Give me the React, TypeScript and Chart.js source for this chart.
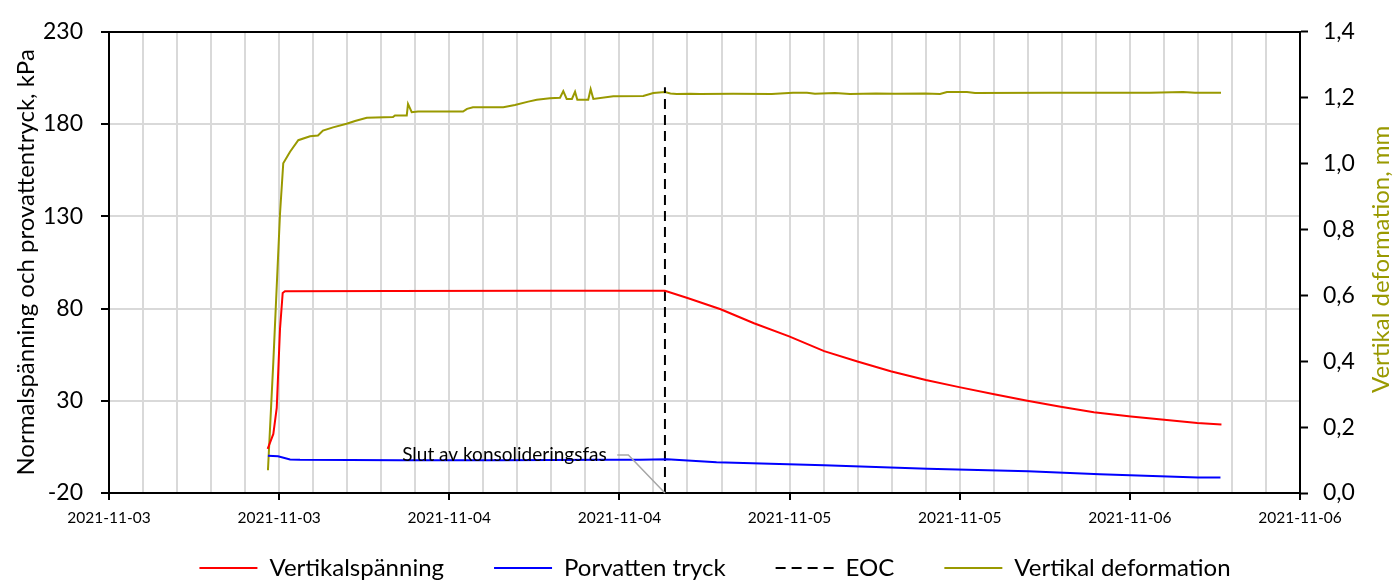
import React, { useEffect, useRef } from 'react';
import { Chart, registerables } from 'chart.js';

Chart.register(...registerables);

// ---- Data (time in hours from 2021-11-03 00:00) ----
const stressTimes = [11.19, 11.59, 11.83, 12.06, 12.25, 12.41, 20.0, 30.4, 39.21, 40.8, 43.14, 45.49, 47.97, 50.44, 52.79, 55.13, 57.61, 59.96, 62.43, 64.77, 67.12, 69.46, 72.07, 74.42, 76.76, 78.46];
const stressValues = [3.9, 12.0, 26.1, 68.8, 88.4, 89.4, 89.5, 89.6, 89.6, 85.7, 79.6, 72.0, 64.9, 56.9, 51.3, 46.0, 41.3, 37.4, 33.5, 30.0, 26.8, 23.8, 21.5, 19.7, 17.9, 17.1];

const poreTimes = [11.21, 11.92, 12.77, 13.47, 20.5, 27.6, 34.6, 37.45, 39.35, 42.85, 50.43, 57.72, 64.82, 69.88, 76.8, 78.39];
const poreValues = [0.2, -0.1, -1.8, -2.0, -2.3, -2.2, -2.0, -2.0, -1.7, -3.3, -5.0, -6.8, -8.2, -9.8, -11.6, -11.6];

const eocTimes = [39.21, 39.21];
const eocValues = [-20, 200];

const deformationTimes = [11.21, 11.59, 12.06, 12.29, 12.77, 13.35, 14.18, 14.74, 15.09, 15.8, 16.76, 17.35, 18.18, 20.03, 20.17, 21.0, 21.09, 21.35, 21.79, 24.97, 25.25, 25.67, 27.81, 28.63, 29.57, 30.17, 31.1, 31.81, 32.04, 32.28, 32.65, 32.87, 33.03, 33.8, 33.97, 34.16, 35.57, 37.68, 38.39, 39.21, 39.6, 40.04, 41.0, 41.68, 44.01, 46.74, 48.24, 49.23, 49.79, 51.2, 52.26, 54.1, 55.44, 57.55, 58.61, 59.1, 60.51, 61.08, 66.37, 73.42, 75.75, 76.59, 78.43];
const deformationValues = [0.069, 0.398, 0.847, 1.001, 1.036, 1.071, 1.083, 1.085, 1.1, 1.11, 1.121, 1.129, 1.139, 1.141, 1.146, 1.146, 1.181, 1.156, 1.158, 1.158, 1.166, 1.171, 1.171, 1.178, 1.188, 1.194, 1.198, 1.2, 1.22, 1.196, 1.196, 1.218, 1.194, 1.194, 1.226, 1.196, 1.204, 1.205, 1.214, 1.217, 1.213, 1.211, 1.212, 1.211, 1.212, 1.211, 1.215, 1.215, 1.212, 1.214, 1.211, 1.213, 1.212, 1.213, 1.211, 1.217, 1.217, 1.214, 1.215, 1.215, 1.217, 1.215, 1.215];

const seriesNames = ['Vertikalspänning', 'Porvatten tryck', 'EOC', 'Vertikal deformation'];
const seriesColors = ['#ff0000', '#0000ff', '#000000', '#999900'];

const leftAxisTitle = 'Normalspänning och provattentryck, kPa';
const rightAxisTitle = 'Vertikal deformation, mm';

const annotationText = 'Slut av konsolideringsfas';
const annotationAnchor = { x: 35.1, y: 0.4 };
const leaderTimes = [35.85, 36.63, 39.21];
const leaderValues = [0.6, 0.6, -20];

const xRange = [0, 84];
const xGridStep = 2.4;
const xMajorEvery = 5;
const leftRange = [-20, 230];
const leftStep = 50;
const rightRange = [0, 1.4];
const rightStep = 0.2;
const startDay = 3;

const FONT = 'Lato';
const LEGEND_FONT = 24;
const LEGEND_PADDING = 50;
const LEGEND_TEXT_CENTER = 568;
const LEGEND_SHIFT_X = 18;

const zip = (xs: number[], ys: number[]) => xs.map((x, i) => ({ x, y: ys[i] }));

const dateLabel = (hours: number) => {
  const day = startDay + Math.floor((hours + 1e-6) / 24);
  return `2021-11-${String(day).padStart(2, '0')}`;
};

const overlayPlugin = {
  id: 'overlay',
  afterLayout(chart: any) {
    const lg = chart.legend;
    if (lg) {
      lg.left += LEGEND_SHIFT_X;
      lg.right += LEGEND_SHIFT_X;
      const h = lg.bottom - lg.top;
      const top = LEGEND_TEXT_CENTER - LEGEND_PADDING - LEGEND_FONT / 2;
      lg.top = top;
      lg.bottom = top + h;
    }
  },
  afterDatasetsDraw(chart: any) {
    const { ctx, scales } = chart;
    const x = scales.x;
    const y = scales.y;
    ctx.save();
    ctx.strokeStyle = '#a6a6a6';
    ctx.lineWidth = 1.5;
    ctx.beginPath();
    leaderTimes.forEach((t, i) => {
      const px = x.getPixelForValue(t);
      const py = y.getPixelForValue(leaderValues[i]);
      if (i === 0) ctx.moveTo(px, py);
      else ctx.lineTo(px, py);
    });
    ctx.stroke();
    ctx.font = `19px ${FONT}`;
    ctx.fillStyle = '#000';
    ctx.textAlign = 'right';
    ctx.textBaseline = 'middle';
    ctx.fillText(annotationText, x.getPixelForValue(annotationAnchor.x), y.getPixelForValue(annotationAnchor.y));
    ctx.restore();
  },
  afterDraw(chart: any) {
    const { ctx, chartArea } = chart;
    ctx.save();
    ctx.translate(chart.width - 13, (chartArea.top + chartArea.bottom) / 2 - 3);
    ctx.rotate(-Math.PI / 2);
    ctx.font = `24px ${FONT}`;
    ctx.fillStyle = '#999900';
    ctx.textAlign = 'center';
    ctx.textBaseline = 'middle';
    ctx.fillText(rightAxisTitle, 0, 0);
    ctx.restore();
  },
};

export default function App() {
  const canvasRef = useRef<HTMLCanvasElement | null>(null);

  useEffect(() => {
    if (!canvasRef.current) return;
    const chart = new Chart(canvasRef.current, {
      type: 'line',
      data: {
        datasets: [
          {
            label: seriesNames[0],
            data: zip(stressTimes, stressValues),
            borderColor: seriesColors[0],
            backgroundColor: seriesColors[0],
            borderWidth: 2,
            pointRadius: 0,
            yAxisID: 'y',
          },
          {
            label: seriesNames[1],
            data: zip(poreTimes, poreValues),
            borderColor: seriesColors[1],
            backgroundColor: seriesColors[1],
            borderWidth: 2,
            pointRadius: 0,
            yAxisID: 'y',
          },
          {
            label: seriesNames[2],
            data: zip(eocTimes, eocValues),
            borderColor: seriesColors[2],
            backgroundColor: seriesColors[2],
            borderWidth: 2,
            borderDash: [10, 6],
            pointRadius: 0,
            yAxisID: 'y',
          },
          {
            label: seriesNames[3],
            data: zip(deformationTimes, deformationValues),
            borderColor: seriesColors[3],
            backgroundColor: seriesColors[3],
            borderWidth: 2,
            pointRadius: 0,
            yAxisID: 'y2',
          },
        ],
      },
      options: {
        responsive: false,
        animation: false,
        devicePixelRatio: 1,
        layout: { padding: { left: 0, right: 0, top: 0, bottom: -34 } },
        elements: { line: { tension: 0 } },
        plugins: {
          tooltip: { enabled: false },
          legend: {
            position: 'bottom',
            labels: {
              usePointStyle: true,
              pointStyle: 'line',
              pointStyleWidth: 58,
              padding: LEGEND_PADDING,
              color: '#000',
              font: { family: FONT, size: LEGEND_FONT },
              generateLabels: (chart: any) => {
                const items = Chart.defaults.plugins.legend.labels.generateLabels(chart);
                items.forEach((it: any) => {
                  const ds: any = chart.data.datasets[it.datasetIndex];
                  it.lineDash = ds.borderDash || [];
                  it.lineWidth = ds.borderWidth;
                  it.strokeStyle = ds.borderColor;
                  it.fillStyle = ds.borderColor;
                });
                return items;
              },
            },
          },
        },
        scales: {
          x: {
            type: 'linear',
            position: 'bottom',
            min: xRange[0],
            max: xRange[1],
            afterBuildTicks: (scale: any) => {
              const n = Math.round((xRange[1] - xRange[0]) / xGridStep);
              const ticks = [];
              for (let i = 0; i <= n; i++) ticks.push({ value: xRange[0] + i * xGridStep });
              scale.ticks = ticks;
            },
            afterFit: (scale: any) => {
              scale.height = 40;
            },
            ticks: {
              autoSkip: false,
              maxRotation: 0,
              minRotation: 0,
              padding: 9,
              color: '#000',
              font: { family: FONT, size: 15.5 },
              callback: (value: any, index: number) => (index % xMajorEvery === 0 ? dateLabel(Number(value)) : ''),
            },
            grid: {
              color: '#d9d9d9',
              lineWidth: 2,
              drawTicks: true,
              tickLength: 7,
              tickWidth: 2,
              tickColor: (c: any) => (c.index % xMajorEvery === 0 ? '#000' : 'rgba(0,0,0,0)'),
            },
            border: { color: '#000', width: 2 },
          },
          x2: {
            type: 'linear',
            position: 'top',
            display: true,
            min: xRange[0],
            max: xRange[1],
            ticks: { display: false },
            grid: { display: false },
            border: { color: '#000', width: 2 },
            afterFit: (scale: any) => {
              scale.height = 25;
            },
          },
          y: {
            type: 'linear',
            position: 'left',
            min: leftRange[0],
            max: leftRange[1],
            ticks: {
              stepSize: leftStep,
              padding: 18,
              color: '#000',
              font: { family: FONT, size: 23 },
            },
            grid: {
              color: '#d9d9d9',
              lineWidth: 2,
              tickColor: '#000',
              tickLength: 8,
              tickWidth: 2,
            },
            border: { color: '#000', width: 2 },
            title: {
              display: true,
              text: leftAxisTitle,
              color: '#000',
              font: { family: FONT, size: 24 },
              padding: { top: 12, bottom: 0 },
            },
            afterFit: (scale: any) => {
              scale.width = 109;
            },
          },
          y2: {
            type: 'linear',
            position: 'right',
            min: rightRange[0],
            max: rightRange[1],
            ticks: {
              stepSize: rightStep,
              padding: 15,
              color: '#000',
              font: { family: FONT, size: 23 },
              callback: (value: any) => Number(value).toFixed(1).replace('.', ','),
            },
            grid: {
              drawOnChartArea: false,
              tickColor: '#000',
              tickLength: 8,
              tickWidth: 2,
            },
            border: { color: '#000', width: 2 },
            afterFit: (scale: any) => {
              scale.width = 94;
            },
          },
        },
      },
      plugins: [overlayPlugin],
    } as any);
    return () => chart.destroy();
  }, []);

  return (
    <div style={{ position: 'absolute', left: 0, top: 0, width: 1394, height: 583, background: '#fff' }}>
      <canvas ref={canvasRef} width={1394} height={583} style={{ display: 'block' }} />
    </div>
  );
}
